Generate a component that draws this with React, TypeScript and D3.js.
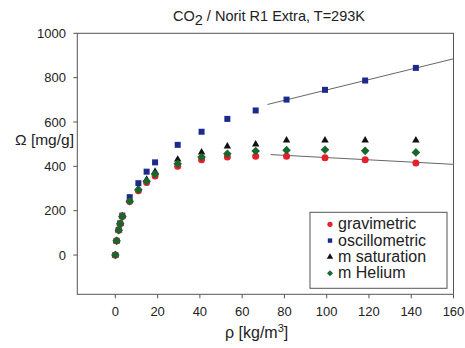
import React from "react";
import * as d3 from "d3";

const rho = [0, 0.6, 1.6, 2.3, 3.3, 6.8, 10.9, 14.8, 18.8, 29.5, 40.8, 53, 66.4, 81, 99.2, 118.2, 142.2];
const gravimetric = [0, 64, 112, 141, 174, 241, 290, 327, 356, 401, 430, 442, 446, 445, 439, 430, 415];
const oscillometric = [0, 64, 114, 143, 178, 261, 324, 376, 418, 497, 556, 614, 652, 701, 745, 787, 844];
const mSaturation = [0, 64, 113, 142, 176, 246, 298, 340, 376, 431, 463, 490, 499, 517, 517, 517, 517];
const mHelium = [0, 64, 112, 141, 174, 243, 295, 333, 365, 412, 442, 457, 469, 473, 475, 470, 463];

const oscFitX = [72, 160];
const oscFitY = [679, 885];
const gravFitX = [73.5, 160];
const gravFitY = [453, 409];

const xTicks = [0, 20, 40, 60, 80, 100, 120, 140, 160];
const yTicks = [0, 200, 400, 600, 800, 1000];

const legendLabels = ["gravimetric", "oscillometric", "m saturation", "m Helium"];

const FONT = "'Liberation Sans', Arial, sans-serif";
const RED = "#e3202b";
const BLUE = "#1b2a8c";
const BLACK = "#111111";
const GREEN = "#17682f";

function diamondPath(h: number) {
  const p = d3.path();
  p.moveTo(0, -h);
  p.lineTo(h, 0);
  p.lineTo(0, h);
  p.lineTo(-h, 0);
  p.closePath();
  return p.toString();
}

export default function App() {
  const x = d3.scaleLinear().domain([-18, 160]).range([77.3, 453.5]);
  const y = d3.scaleLinear().domain([-177, 1000]).range([294.3, 33.3]);

  const tri = d3.symbol().type(d3.symbolTriangle).size(24)() as string;
  const dia = diamondPath(4.3);
  const triS = d3.symbol().type(d3.symbolTriangle).size(18)() as string;
  const diaS = diamondPath(3);

  const line = d3
    .line<[number, number]>()
    .x((d) => x(d[0]))
    .y((d) => y(d[1]));

  const oscFit = line(oscFitX.map((v, i) => [v, oscFitY[i]] as [number, number])) as string;
  const gravFit = line(gravFitX.map((v, i) => [v, gravFitY[i]] as [number, number])) as string;

  const [x0, x1] = x.range();
  const [y0, y1] = y.range();

  const legendX = 330;
  const legendY0 = 224.3;
  const legendStep = 16.3;

  return (
    <svg
      width={465}
      height={348}
      style={{ position: "absolute", left: 0, top: 0, background: "#fff" }}
      fontFamily={FONT}
    >
      <rect x={0} y={0} width={465} height={348} fill="#fff" />
      {/* title */}
      <text x={269} y={21} fontSize={14.5} textAnchor="middle" fill="#222">
        CO<tspan dy={4}>2</tspan>
        <tspan dy={-4}> / Norit R1 Extra, T=293K</tspan>
      </text>

      {/* frame */}
      <rect x={x0} y={y1} width={x1 - x0} height={y0 - y1} fill="none" stroke="#555" strokeWidth={1} />

      {/* x ticks */}
      {xTicks.map((t) => (
        <g key={"xt" + t}>
          <line x1={x(t)} x2={x(t)} y1={y0} y2={y0 + 4} stroke="#555" />
          <text x={x(t)} y={316} fontSize={13} textAnchor="middle" fill="#222">
            {t}
          </text>
        </g>
      ))}
      {/* y ticks */}
      {yTicks.map((t) => (
        <g key={"yt" + t}>
          <line x1={x0 - 4} x2={x0} y1={y(t)} y2={y(t)} stroke="#555" />
          <text x={66} y={y(t) + 4.5} fontSize={13} textAnchor="end" fill="#222">
            {t}
          </text>
        </g>
      ))}

      {/* axis labels */}
      <text x={15} y={145} fontSize={15.5} fill="#222">
        Ω [mg/g]
      </text>
      <text x={225} y={338} fontSize={16} fill="#222">
        ρ [kg/m<tspan dy={-6} fontSize={11}>3</tspan>
        <tspan dy={6}>]</tspan>
      </text>

      {/* fit lines */}
      <path d={oscFit} fill="none" stroke="#666" strokeWidth={1} />
      <path d={gravFit} fill="none" stroke="#666" strokeWidth={1} />

      {/* data */}
      {rho.map((r, i) => (
        <rect key={"b" + i} x={x(r) - 3} y={y(oscillometric[i]) - 3} width={6} height={6} fill={BLUE} />
      ))}
      {rho.map((r, i) => (
        <path key={"k" + i} d={tri} transform={`translate(${x(r)},${y(mSaturation[i])})`} fill={BLACK} />
      ))}
      {rho.map((r, i) => (
        <circle key={"r" + i} cx={x(r)} cy={y(gravimetric[i])} r={3.5} fill={RED} />
      ))}
      {rho.map((r, i) => (
        <path key={"g" + i} d={dia} transform={`translate(${x(r)},${y(mHelium[i])})`} fill={GREEN} />
      ))}

      {/* legend */}
      <rect x={310} y={212.3} width={137} height={76} fill="#fff" stroke="#555" strokeWidth={1} />
      {legendLabels.map((lab, i) => {
        const cy = legendY0 + i * legendStep;
        let marker;
        if (i === 0) marker = <circle cx={legendX} cy={cy} r={2.6} fill={RED} />;
        else if (i === 1) marker = <rect x={legendX - 2.2} y={cy - 2.2} width={4.4} height={4.4} fill={BLUE} />;
        else if (i === 2) marker = <path d={triS} transform={`translate(${legendX},${cy})`} fill={BLACK} />;
        else marker = <path d={diaS} transform={`translate(${legendX},${cy})`} fill={GREEN} />;
        return (
          <g key={"l" + i}>
            {marker}
            <text x={338} y={cy + 5} fontSize={16} fill="#222">
              {lab}
            </text>
          </g>
        );
      })}
    </svg>
  );
}
